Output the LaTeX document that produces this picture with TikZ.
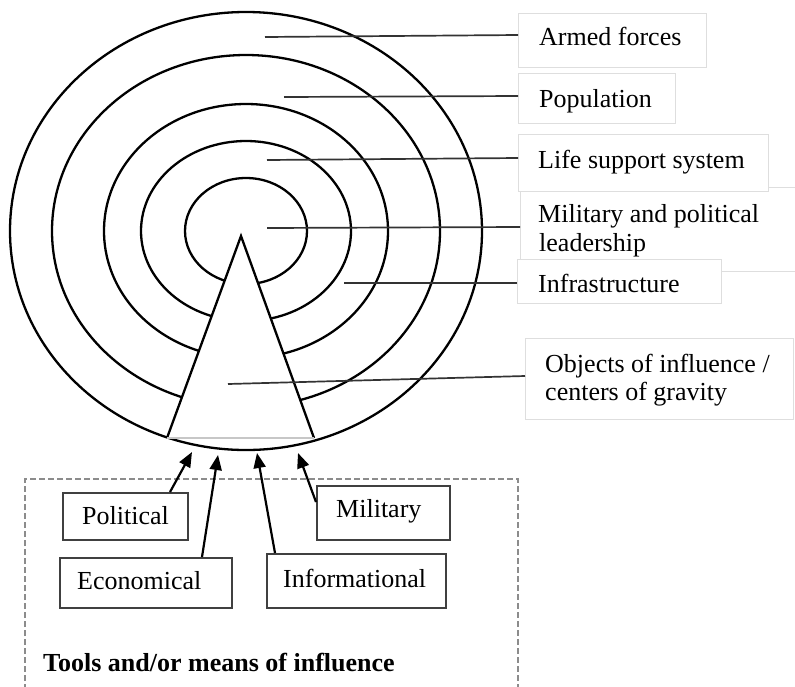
\documentclass[tikz,border=0pt]{standalone}
\usepackage{fontspec}
\setmainfont{Liberation Serif}
\usetikzlibrary{arrows.meta}
\begin{document}
\begin{tikzpicture}[x=1pt,y=-1pt,
  ring/.style={line width=2.3pt},
  lead/.style={line width=1.7pt, draw=black!80},
  rbox/.style={draw=black!13, line width=1.2pt, fill=white, inner sep=0pt, anchor=north west},
  lbl/.style={anchor=base west, inner sep=0pt, font=\fontsize{26}{30}\selectfont},
  tbox/.style={draw=black!75, line width=1.6pt, fill=white, inner sep=0pt, anchor=north west},
  arr/.style={line width=2.2pt, -{Triangle[length=15pt,width=12pt]}},
]
\fill[white] (0,0) rectangle (795,686);
\useasboundingbox (0,0) rectangle (795,686);

% concentric rings
\foreach \rx/\ry in {236/219,194/176,142/127,105/90,61/53}
  \draw[ring] (246,231) ellipse [x radius=\rx pt, y radius=\ry pt];

% triangle
\coordinate (apex) at (241,236);
\coordinate (bl) at (167,438);
\coordinate (br) at (314,438);
\fill[white] (apex) -- (bl) -- (br) -- cycle;
\draw[ring, line join=miter] (bl) -- (apex) -- (br);
\draw[line width=1.5pt, black!22] (bl) -- (br);

% right-hand label boxes
\node[rbox, minimum width=188pt, minimum height=54pt] (armedbox) at (518,13) {};
\node[lbl] (armed) at (539,45) {Armed forces};
\node[rbox, minimum width=157pt, minimum height=50pt] (popbox) at (518,73) {};
\node[lbl] (pop) at (539,107) {Population};
\node[rbox, minimum width=290pt, minimum height=84pt] (leadbox) at (520,187) {};
\node[lbl] (lead1) at (538,222) {Military and political};
\node[lbl] (lead2) at (539,251) {leadership};
\node[rbox, minimum width=250pt, minimum height=57pt] (lifebox) at (518,134) {};
\node[lbl] (life) at (538,168) {Life support system};
\node[rbox, minimum width=204pt, minimum height=44pt] (infrabox) at (517,259) {};
\node[lbl] (infra) at (538,292) {Infrastructure};
\node[rbox, minimum width=268pt, minimum height=81pt] (objbox) at (525,338) {};
\node[lbl] (obj1) at (545,372) {Objects of influence /};
\node[lbl] (obj2) at (545,400) {centers of gravity};

% leader lines
\coordinate (la) at (265,37);
\coordinate (lp) at (284,97);
\coordinate (ll) at (267,160);
\coordinate (lm) at (267,228);
\coordinate (li) at (344,283);
\coordinate (lo) at (228,384);
\draw[lead] (la) -- (armedbox.west |- 0,35);
\draw[lead] (lp) -- (popbox.west |- 0,96);
\draw[lead] (ll) -- (lifebox.west |- 0,158);
\draw[lead] (lm) -- (leadbox.west |- 0,227);
\draw[lead] (li) -- (infrabox.west |- 0,283);
\draw[lead] (lo) -- (objbox.west |- 0,376);

% tools frame
\draw[black!45, line width=1.5pt, dash pattern=on 6pt off 3pt] (25,690) -- (25,479) -- (518,479) -- (518,690);

% tool boxes
\node[tbox, minimum width=125pt, minimum height=47pt] (polbox) at (62,492) {};
\node[lbl] (pol) at (82,524) {Political};
\node[tbox, minimum width=172pt, minimum height=50pt] (ecobox) at (59,557) {};
\node[lbl] (eco) at (77,589) {Economical};
\node[tbox, minimum width=179pt, minimum height=54pt] (infobox) at (266,553) {};
\node[lbl] (info) at (283,587) {Informational};
\node[tbox, minimum width=133pt, minimum height=54pt] (milbox) at (316,485) {};
\node[lbl] (mil) at (336,517) {Military};
\node[lbl, font=\bfseries\fontsize{26}{30}\selectfont] (tools) at (43,671) {Tools and/or means of influence};

% arrows
\coordinate (t1) at (192,452);
\coordinate (t2) at (218,455);
\coordinate (t3) at (257,453);
\coordinate (t4) at (298,453);
\draw[arr] (polbox.north -| 170,0) -- (t1);
\draw[arr] (ecobox.north -| 202,0) -- (t2);
\draw[arr] (infobox.north -| 275,0) -- (t3);
\draw[arr] (milbox.west |- 0,502) -- (t4);
\end{tikzpicture}
\end{document}
